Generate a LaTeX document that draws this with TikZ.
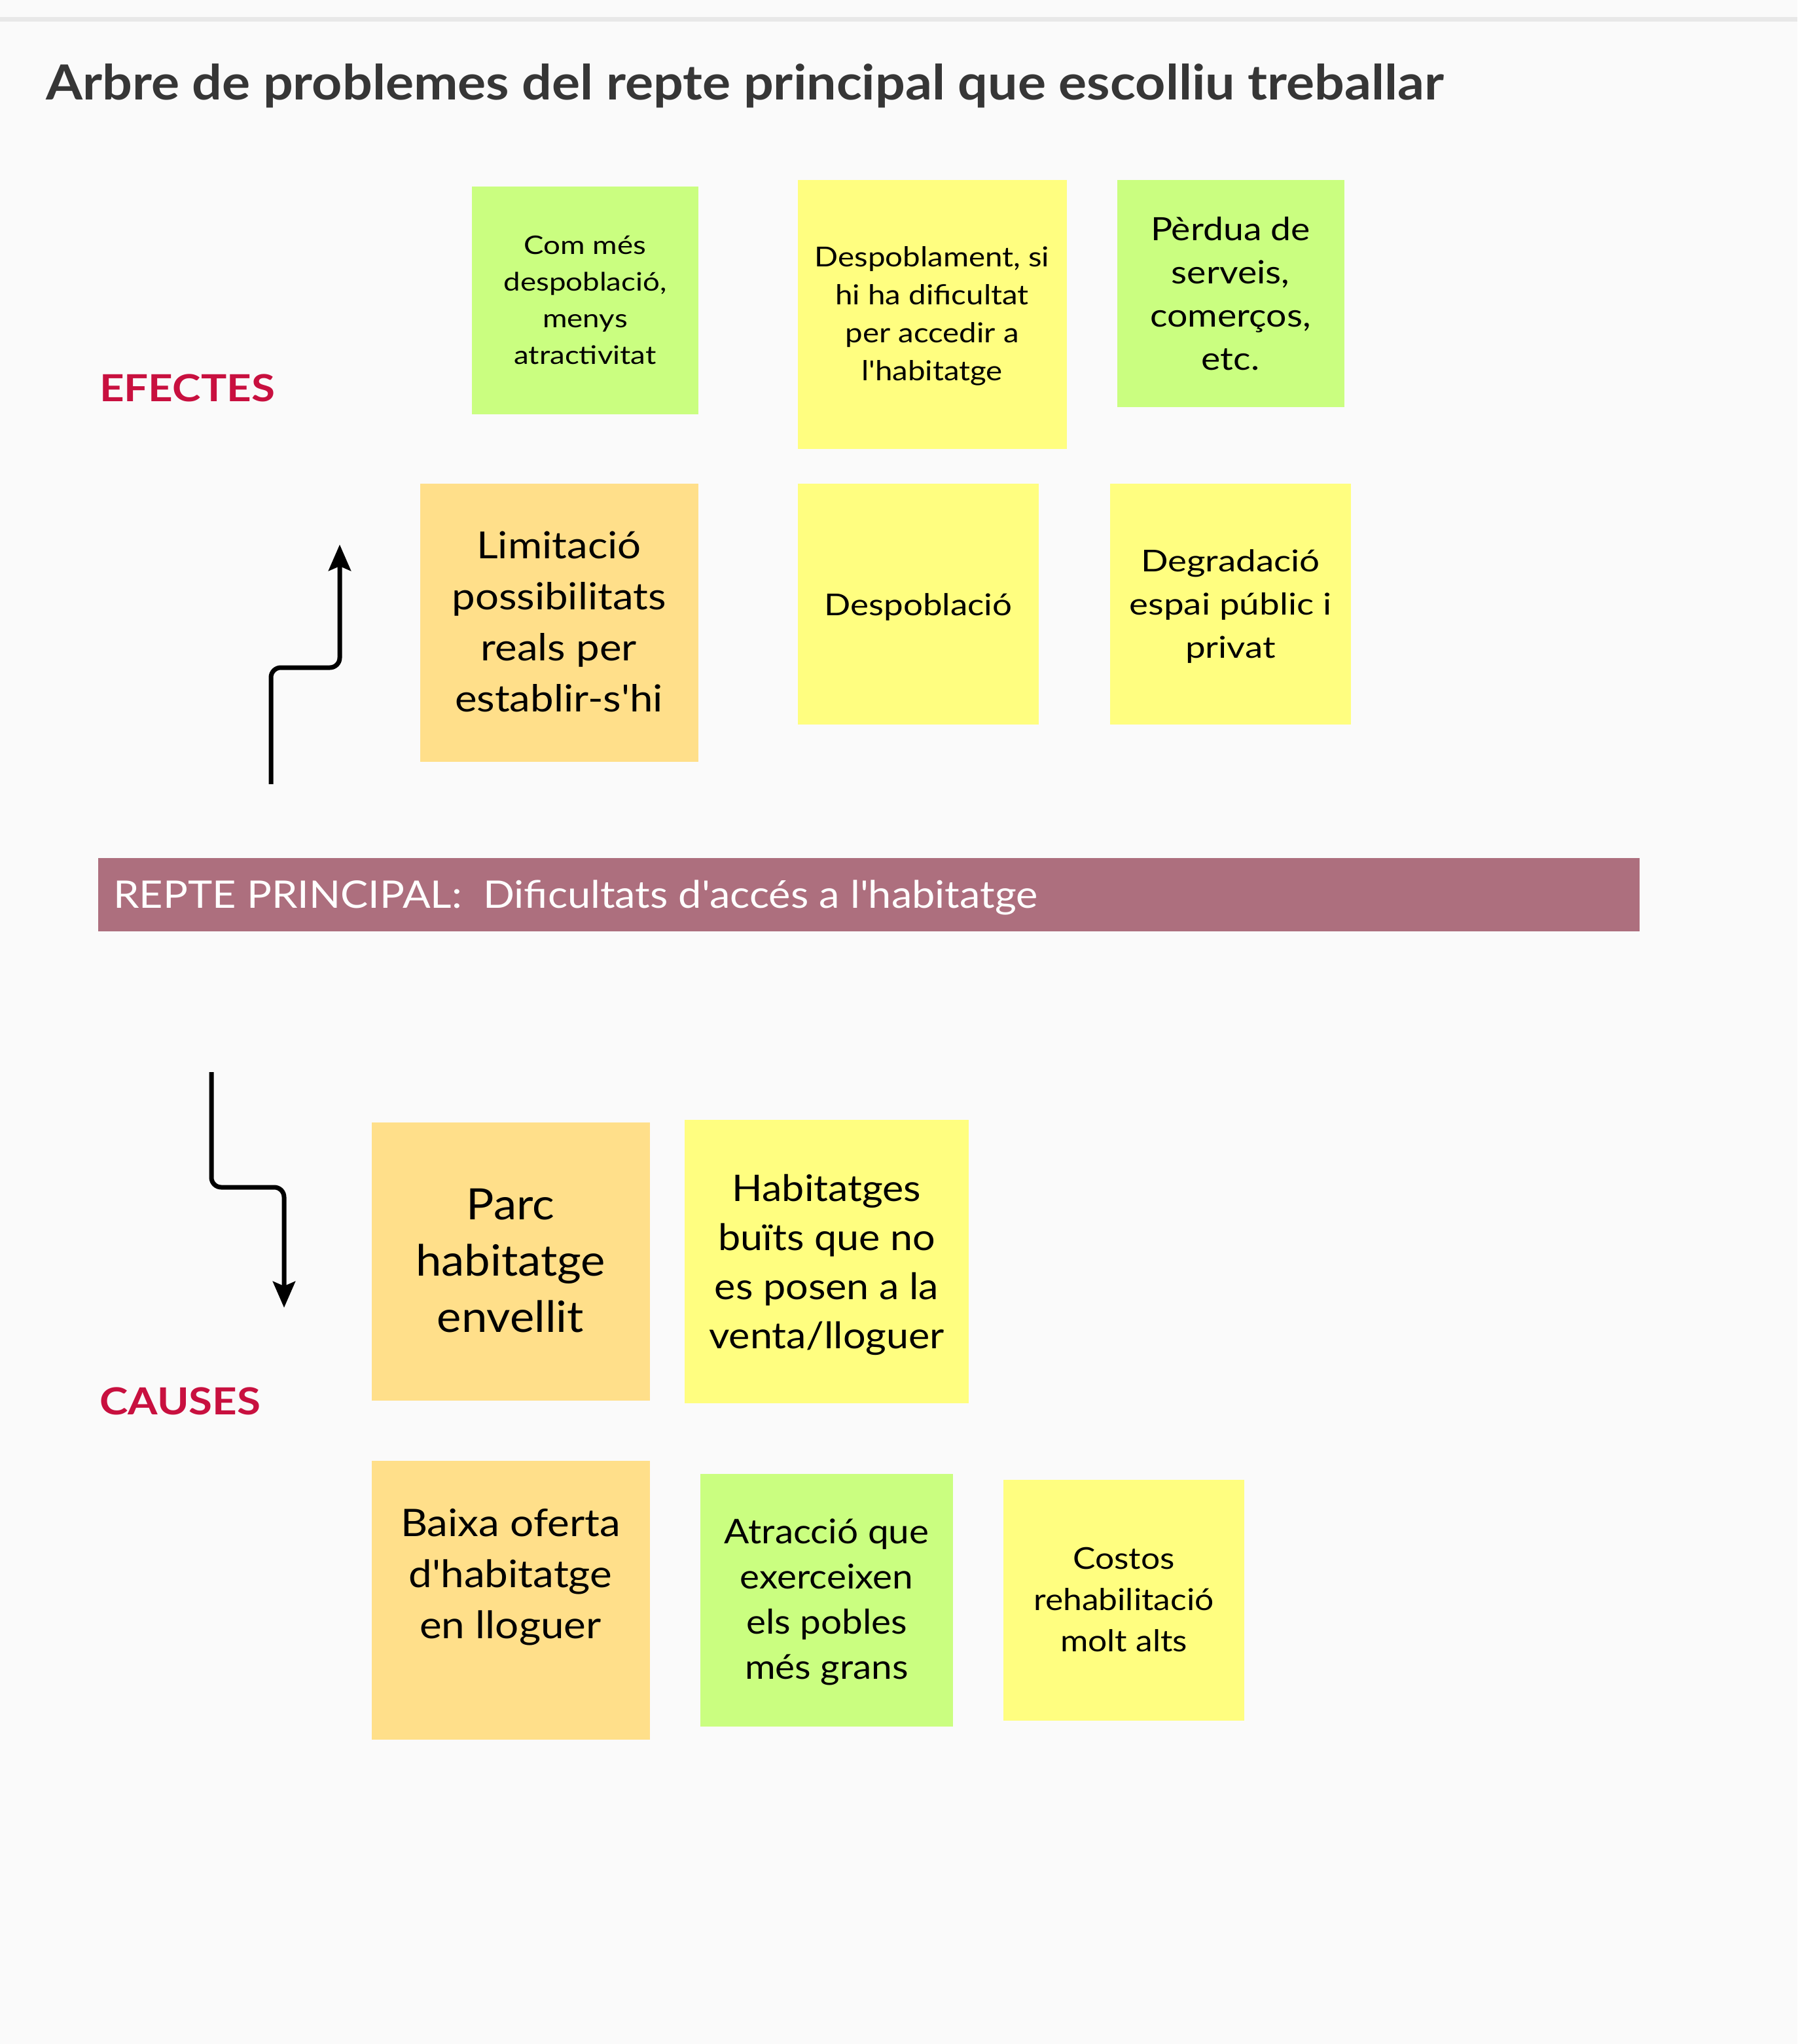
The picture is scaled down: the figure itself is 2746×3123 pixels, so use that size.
\documentclass[tikz,border=0pt]{standalone}
\usepackage{fontspec}
\setmainfont{Lato}[Ligatures=TeXOff]
\usetikzlibrary{arrows.meta}
\definecolor{bg}{HTML}{FAFAFA}
\definecolor{rule}{HTML}{E8E8E8}
\definecolor{titlec}{HTML}{363636}
\definecolor{labred}{HTML}{C8103F}
\definecolor{stgreen}{HTML}{CAFE80}
\definecolor{styellow}{HTML}{FFFE80}
\definecolor{storange}{HTML}{FFDF8A}
\definecolor{barc}{HTML}{AD6F7E}
\newcommand\fnt[3]{\fontsize{#1}{#2}\selectfont\addfontfeatures{FakeStretch=#3}}
\begin{document}
\begin{tikzpicture}[x=1pt,y=-1pt,
  sticky/.style={rectangle,draw=none,inner sep=0pt,anchor=north west},
  lbl/.style={inner sep=0pt,anchor=base,text=black},
  arr/.style={line width=7pt,rounded corners=15pt,-{Stealth[length=40pt,width=34pt,inset=7pt]}},
  section/.style={inner sep=0pt,anchor=base west,text=labred,font=\bfseries\fnt{57}{68}{1.15}}]
\useasboundingbox (0,0) rectangle (2746,3123);
\fill[bg] (0,0) rectangle (2746,3123);
\fill[rule] (0,26) rectangle (2746,33);
% title
\node[inner sep=0pt,anchor=base west,text=titlec,font=\bfseries\fnt{74}{88}{1.09}] (title) at (70,153) {Arbre de problemes del repte principal que escolliu treballar};
% section labels
\node[section] (efectes) at (152,613) {EFECTES};
\node[section] (causes) at (152,2161) {CAUSES};
% effects row 1
\node[sticky,fill=stgreen,minimum width=346pt,minimum height=348pt] (e1) at (721,285) {};
\node[lbl,font=\fnt{39}{56}{1.17}] (e1t) at (894,388) {\begin{tabular}[t]{@{}c@{}}Com més\\despoblació,\\menys\\atractivitat\end{tabular}};
\node[sticky,fill=styellow,minimum width=411pt,minimum height=411pt] (e2) at (1219,275) {};
\node[lbl,font=\fnt{42}{58}{1.13}] (e2t) at (1424,407) {\begin{tabular}[t]{@{}c@{}}Despoblament, si\\hi ha dificultat\\per accedir a\\l'habitatge\end{tabular}};
\node[sticky,fill=stgreen,minimum width=347pt,minimum height=347pt] (e3) at (1707,275) {};
\node[lbl,font=\fnt{49}{66}{1.13}] (e3t) at (1880,367) {\begin{tabular}[t]{@{}c@{}}Pèrdua de\\serveis,\\comerços,\\etc.\end{tabular}};
% effects row 2
\node[sticky,fill=storange,minimum width=425pt,minimum height=425pt] (e4) at (642,739) {};
\node[lbl,font=\fnt{57}{78}{1.115}] (e4t) at (854,853) {\begin{tabular}[t]{@{}c@{}}Limitació\\possibilitats\\reals per\\establir-s'hi\end{tabular}};
\node[sticky,fill=styellow,minimum width=368pt,minimum height=368pt] (e5) at (1219,739) {};
\node[lbl,font=\fnt{46}{66}{1.15}] (e5t) at (1403,940) {Despoblació};
\node[sticky,fill=styellow,minimum width=368pt,minimum height=368pt] (e6) at (1696,739) {};
\node[lbl,font=\fnt{46}{66}{1.19}] (e6t) at (1880,873) {\begin{tabular}[t]{@{}c@{}}Degradació\\espai públic i\\privat\end{tabular}};
% main challenge bar
\node[sticky,fill=barc,minimum width=2355pt,minimum height=112pt] (bar) at (150,1311) {};
\node[inner sep=0pt,anchor=base west,text=white,font=\fnt{58}{70}{1.088}] (bart) at (173,1387) {REPTE PRINCIPAL:\ \ Dificultats d'accés a l'habitatge};
% causes row 1
\node[sticky,fill=storange,minimum width=425pt,minimum height=425pt] (c1) at (568,1715) {};
\node[lbl,font=\fnt{66}{86}{1.07}] (c1t) at (780,1863) {\begin{tabular}[t]{@{}c@{}}Parc\\habitatge\\envellit\end{tabular}};
\node[sticky,fill=styellow,minimum width=434pt,minimum height=433pt] (c2) at (1046,1711) {};
\node[lbl,font=\fnt{56}{75}{1.09}] (c2t) at (1263,1835) {\begin{tabular}[t]{@{}c@{}}Habitatges\\buïts que no\\es posen a la\\venta/lloguer\end{tabular}};
% causes row 2
\node[sticky,fill=storange,minimum width=425pt,minimum height=426pt] (c3) at (568,2232) {};
\node[lbl,font=\fnt{58}{78}{1.1}] (c3t) at (780,2347) {\begin{tabular}[t]{@{}c@{}}Baixa oferta\\d'habitatge\\en lloguer\end{tabular}};
\node[sticky,fill=stgreen,minimum width=386pt,minimum height=386pt] (c4) at (1070,2252) {};
\node[lbl,font=\fnt{52}{69}{1.09}] (c4t) at (1263,2358) {\begin{tabular}[t]{@{}c@{}}Atracció que\\exerceixen\\els pobles\\més grans\end{tabular}};
\node[sticky,fill=styellow,minimum width=368pt,minimum height=368pt] (c5) at (1533,2261) {};
\node[lbl,font=\fnt{46}{63}{1.12}] (c5t) at (1717,2397) {\begin{tabular}[t]{@{}c@{}}Costos\\rehabilitació\\molt alts\end{tabular}};
% arrows
\coordinate (u0) at (414,1198);
\coordinate (um) at (519,1020);
\coordinate (u1) at (519,832);
\draw[arr] (u0) |- (um) -- (u1);
\coordinate (d0) at (323,1638);
\coordinate (dm) at (434,1814);
\coordinate (d1) at (434,1998);
\draw[arr] (d0) |- (dm) -- (d1);
\end{tikzpicture}
\end{document}
